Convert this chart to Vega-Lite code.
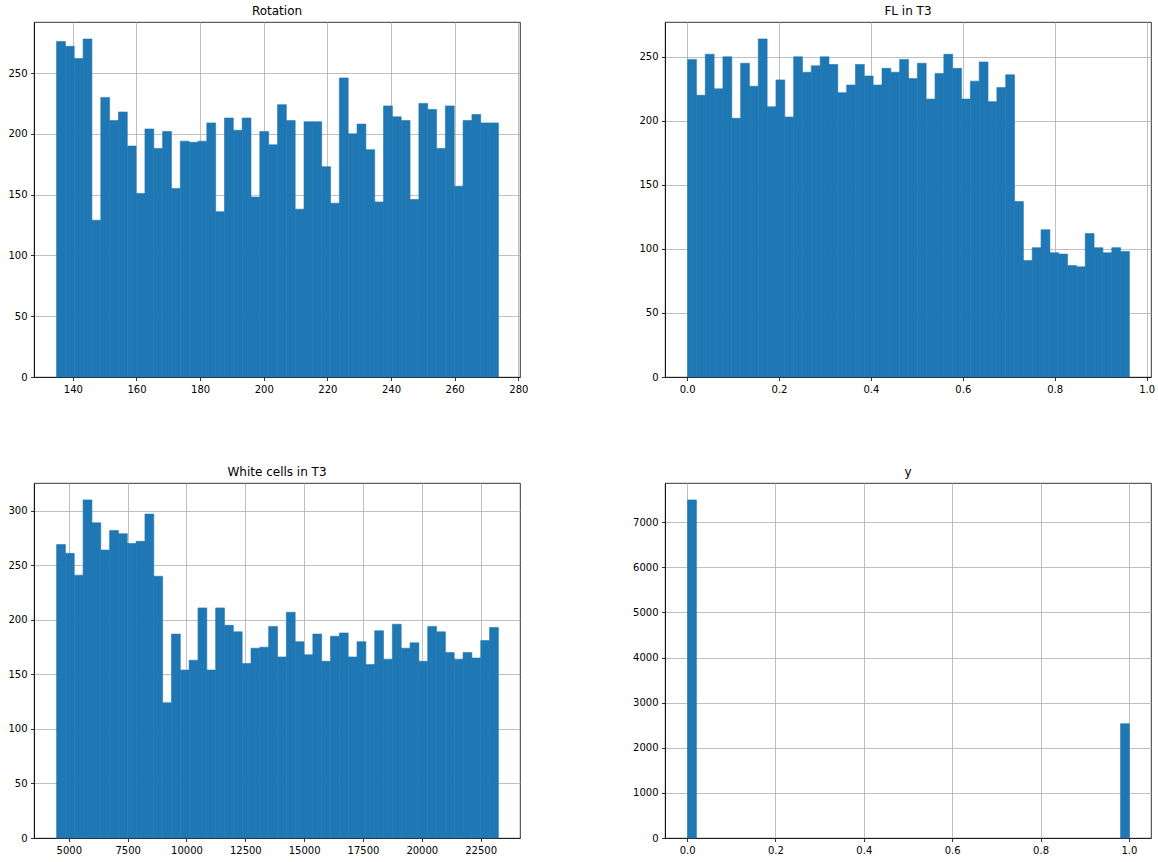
{
  "$schema": "https://vega.github.io/schema/vega-lite/v6.json",
  "padding": {"left": 7, "top": 4, "right": 5, "bottom": 5},
  "background": "white",
  "datasets": {
    "rotation": [
      {"lo":134.74,"hi":137.52,"n":276},{"lo":137.52,"hi":140.29,"n":272},{"lo":140.29,"hi":143.07,"n":262},{"lo":143.07,"hi":145.85,"n":278},{"lo":145.85,"hi":148.63,"n":129},
      {"lo":148.63,"hi":151.40,"n":230},{"lo":151.40,"hi":154.18,"n":211},{"lo":154.18,"hi":156.96,"n":218},{"lo":156.96,"hi":159.73,"n":190},{"lo":159.73,"hi":162.51,"n":151},
      {"lo":162.51,"hi":165.29,"n":204},{"lo":165.29,"hi":168.06,"n":188},{"lo":168.06,"hi":170.84,"n":202},{"lo":170.84,"hi":173.62,"n":155},{"lo":173.62,"hi":176.40,"n":194},
      {"lo":176.40,"hi":179.17,"n":193},{"lo":179.17,"hi":181.95,"n":194},{"lo":181.95,"hi":184.73,"n":209},{"lo":184.73,"hi":187.50,"n":136},{"lo":187.50,"hi":190.28,"n":213},
      {"lo":190.28,"hi":193.06,"n":203},{"lo":193.06,"hi":195.83,"n":213},{"lo":195.83,"hi":198.61,"n":148},{"lo":198.61,"hi":201.39,"n":202},{"lo":201.39,"hi":204.17,"n":191},
      {"lo":204.17,"hi":206.94,"n":224},{"lo":206.94,"hi":209.72,"n":211},{"lo":209.72,"hi":212.50,"n":138},{"lo":212.50,"hi":215.27,"n":210},{"lo":215.27,"hi":218.05,"n":210},
      {"lo":218.05,"hi":220.83,"n":173},{"lo":220.83,"hi":223.60,"n":143},{"lo":223.60,"hi":226.38,"n":246},{"lo":226.38,"hi":229.16,"n":200},{"lo":229.16,"hi":231.94,"n":208},
      {"lo":231.94,"hi":234.71,"n":187},{"lo":234.71,"hi":237.49,"n":144},{"lo":237.49,"hi":240.27,"n":223},{"lo":240.27,"hi":243.04,"n":214},{"lo":243.04,"hi":245.82,"n":211},
      {"lo":245.82,"hi":248.60,"n":146},{"lo":248.60,"hi":251.37,"n":225},{"lo":251.37,"hi":254.15,"n":220},{"lo":254.15,"hi":256.93,"n":188},{"lo":256.93,"hi":259.71,"n":223},
      {"lo":259.71,"hi":262.48,"n":157},{"lo":262.48,"hi":265.26,"n":211},{"lo":265.26,"hi":268.04,"n":216},{"lo":268.04,"hi":270.81,"n":209},{"lo":270.81,"hi":273.59,"n":209}
    ],
    "fl": [
      {"lo":0,"hi":0.0192,"n":248},{"lo":0.0192,"hi":0.0385,"n":220},{"lo":0.0385,"hi":0.0577,"n":252},{"lo":0.0577,"hi":0.0769,"n":225},{"lo":0.0769,"hi":0.0962,"n":250},
      {"lo":0.0962,"hi":0.1154,"n":202},{"lo":0.1154,"hi":0.1346,"n":245},{"lo":0.1346,"hi":0.1538,"n":227},{"lo":0.1538,"hi":0.1731,"n":264},{"lo":0.1731,"hi":0.1923,"n":211},
      {"lo":0.1923,"hi":0.2115,"n":232},{"lo":0.2115,"hi":0.2308,"n":203},{"lo":0.2308,"hi":0.25,"n":250},{"lo":0.25,"hi":0.2692,"n":238},{"lo":0.2692,"hi":0.2885,"n":243},
      {"lo":0.2885,"hi":0.3077,"n":250},{"lo":0.3077,"hi":0.3269,"n":244},{"lo":0.3269,"hi":0.3462,"n":222},{"lo":0.3462,"hi":0.3654,"n":228},{"lo":0.3654,"hi":0.3846,"n":244},
      {"lo":0.3846,"hi":0.4038,"n":235},{"lo":0.4038,"hi":0.4231,"n":228},{"lo":0.4231,"hi":0.4423,"n":241},{"lo":0.4423,"hi":0.4615,"n":238},{"lo":0.4615,"hi":0.4808,"n":248},
      {"lo":0.4808,"hi":0.5,"n":233},{"lo":0.5,"hi":0.5192,"n":245},{"lo":0.5192,"hi":0.5385,"n":217},{"lo":0.5385,"hi":0.5577,"n":237},{"lo":0.5577,"hi":0.5769,"n":252},
      {"lo":0.5769,"hi":0.5962,"n":241},{"lo":0.5962,"hi":0.6154,"n":217},{"lo":0.6154,"hi":0.6346,"n":231},{"lo":0.6346,"hi":0.6538,"n":246},{"lo":0.6538,"hi":0.6731,"n":215},
      {"lo":0.6731,"hi":0.6923,"n":226},{"lo":0.6923,"hi":0.7115,"n":236},{"lo":0.7115,"hi":0.7308,"n":137},{"lo":0.7308,"hi":0.75,"n":91},{"lo":0.75,"hi":0.7692,"n":101},
      {"lo":0.7692,"hi":0.7885,"n":115},{"lo":0.7885,"hi":0.8077,"n":97},{"lo":0.8077,"hi":0.8269,"n":96},{"lo":0.8269,"hi":0.8462,"n":87},{"lo":0.8462,"hi":0.8654,"n":86},
      {"lo":0.8654,"hi":0.8846,"n":112},{"lo":0.8846,"hi":0.9038,"n":101},{"lo":0.9038,"hi":0.9231,"n":97},{"lo":0.9231,"hi":0.9423,"n":101},{"lo":0.9423,"hi":0.9615,"n":98}
    ],
    "wc": [
      {"lo":4459,"hi":4834.5,"n":269},{"lo":4834.5,"hi":5210,"n":261},{"lo":5210,"hi":5585.5,"n":241},{"lo":5585.5,"hi":5961,"n":310},{"lo":5961,"hi":6336.5,"n":289},
      {"lo":6336.5,"hi":6712,"n":264},{"lo":6712,"hi":7087.5,"n":282},{"lo":7087.5,"hi":7463,"n":279},{"lo":7463,"hi":7838.5,"n":270},{"lo":7838.5,"hi":8214,"n":272},
      {"lo":8214,"hi":8589.5,"n":297},{"lo":8589.5,"hi":8965,"n":240},{"lo":8965,"hi":9340.5,"n":124},{"lo":9340.5,"hi":9716,"n":187},{"lo":9716,"hi":10091.5,"n":154},
      {"lo":10091.5,"hi":10467,"n":163},{"lo":10467,"hi":10842.5,"n":211},{"lo":10842.5,"hi":11218,"n":154},{"lo":11218,"hi":11593.5,"n":211},{"lo":11593.5,"hi":11969,"n":195},
      {"lo":11969,"hi":12344.5,"n":189},{"lo":12344.5,"hi":12720,"n":160},{"lo":12720,"hi":13095.5,"n":174},{"lo":13095.5,"hi":13471,"n":175},{"lo":13471,"hi":13846.5,"n":194},
      {"lo":13846.5,"hi":14222,"n":166},{"lo":14222,"hi":14597.5,"n":207},{"lo":14597.5,"hi":14973,"n":180},{"lo":14973,"hi":15348.5,"n":168},{"lo":15348.5,"hi":15724,"n":187},
      {"lo":15724,"hi":16099.5,"n":162},{"lo":16099.5,"hi":16475,"n":185},{"lo":16475,"hi":16850.5,"n":188},{"lo":16850.5,"hi":17226,"n":166},{"lo":17226,"hi":17601.5,"n":180},
      {"lo":17601.5,"hi":17977,"n":159},{"lo":17977,"hi":18352.5,"n":190},{"lo":18352.5,"hi":18728,"n":164},{"lo":18728,"hi":19103.5,"n":196},{"lo":19103.5,"hi":19479,"n":174},
      {"lo":19479,"hi":19854.5,"n":179},{"lo":19854.5,"hi":20230,"n":162},{"lo":20230,"hi":20605.5,"n":194},{"lo":20605.5,"hi":20981,"n":189},{"lo":20981,"hi":21356.5,"n":170},
      {"lo":21356.5,"hi":21732,"n":164},{"lo":21732,"hi":22107.5,"n":170},{"lo":22107.5,"hi":22483,"n":165},{"lo":22483,"hi":22858.5,"n":181},{"lo":22858.5,"hi":23234,"n":193}
    ],
    "yv": [
      {"lo":0,"hi":0.02,"n":7495},{"lo":0.98,"hi":1.0,"n":2533}
    ]
  },
  "columns": 2,
  "spacing": {"row": 106, "column": 145},
  "bounds": "flush",
  "concat": [
    {
      "title": {"text": "Rotation"},
      "data": {"name": "rotation"},
      "width": 486, "height": 355,
      "mark": {"type": "bar", "color": "#1f77b4", "binSpacing": 0, "stroke": "#1f77b4", "strokeWidth": 0.6},
      "encoding": {
        "x": {"field": "lo", "type": "quantitative", "bin": "binned",
              "scale": {"domain": [127.8, 280.53], "nice": false, "zero": false},
              "axis": {"values": [140,160,180,200,220,240,260,280], "format": "d", "title": null}},
        "x2": {"field": "hi"},
        "y": {"field": "n", "type": "quantitative",
              "scale": {"domain": [0, 292], "nice": false},
              "axis": {"values": [0,50,100,150,200,250], "format": "d", "title": null}}
      }
    },
    {
      "title": {"text": "FL in T3"},
      "data": {"name": "fl"},
      "width": 486, "height": 355,
      "mark": {"type": "bar", "color": "#1f77b4", "binSpacing": 0, "stroke": "#1f77b4", "strokeWidth": 0.6},
      "encoding": {
        "x": {"field": "lo", "type": "quantitative", "bin": "binned",
              "scale": {"domain": [-0.0481, 1.0096], "nice": false, "zero": false},
              "axis": {"values": [0,0.2,0.4,0.6,0.8,1.0], "format": ".1f", "title": null}},
        "x2": {"field": "hi"},
        "y": {"field": "n", "type": "quantitative",
              "scale": {"domain": [0, 277.2], "nice": false},
              "axis": {"values": [0,50,100,150,200,250], "format": "d", "title": null}}
      }
    },
    {
      "title": {"text": "White cells in T3"},
      "data": {"name": "wc"},
      "width": 486, "height": 355,
      "mark": {"type": "bar", "color": "#1f77b4", "binSpacing": 0, "stroke": "#1f77b4", "strokeWidth": 0.6},
      "encoding": {
        "x": {"field": "lo", "type": "quantitative", "bin": "binned",
              "scale": {"domain": [3520, 24173], "nice": false, "zero": false},
              "axis": {"values": [5000,7500,10000,12500,15000,17500,20000,22500], "format": "d", "title": null}},
        "x2": {"field": "hi"},
        "y": {"field": "n", "type": "quantitative",
              "scale": {"domain": [0, 325.5], "nice": false},
              "axis": {"values": [0,50,100,150,200,250,300], "format": "d", "title": null}}
      }
    },
    {
      "title": {"text": "y"},
      "data": {"name": "yv"},
      "width": 486, "height": 355,
      "mark": {"type": "bar", "color": "#1f77b4", "binSpacing": 0, "stroke": "#1f77b4", "strokeWidth": 0.6},
      "encoding": {
        "x": {"field": "lo", "type": "quantitative", "bin": "binned",
              "scale": {"domain": [-0.05, 1.05], "nice": false, "zero": false},
              "axis": {"values": [0,0.2,0.4,0.6,0.8,1.0], "format": ".1f", "title": null}},
        "x2": {"field": "hi"},
        "y": {"field": "n", "type": "quantitative",
              "scale": {"domain": [0, 7870], "nice": false},
              "axis": {"values": [0,1000,2000,3000,4000,5000,6000,7000], "format": "d", "title": null}}
      }
    }
  ],
  "config": {
    "font": "DejaVu Sans",
    "view": {"stroke": "#000000", "strokeWidth": 0.8},
    "axis": {
      "grid": true, "gridColor": "#b0b0b0", "gridWidth": 0.8, "gridOpacity": 1,
      "domainColor": "#000000", "domainWidth": 0.8,
      "tickColor": "#000000", "tickWidth": 0.8, "tickSize": 3.5,
      "labelFont": "DejaVu Sans", "labelFontSize": 10, "labelColor": "#000000", "labelPadding": 3.5,
      "labelFlush": false, "labelOverlap": false,
      "zindex": 1
    },
    "title": {"font": "DejaVu Sans", "fontSize": 12, "fontWeight": "normal", "color": "#000000", "offset": 4, "frame": "group", "anchor": "middle"}
  }
}
